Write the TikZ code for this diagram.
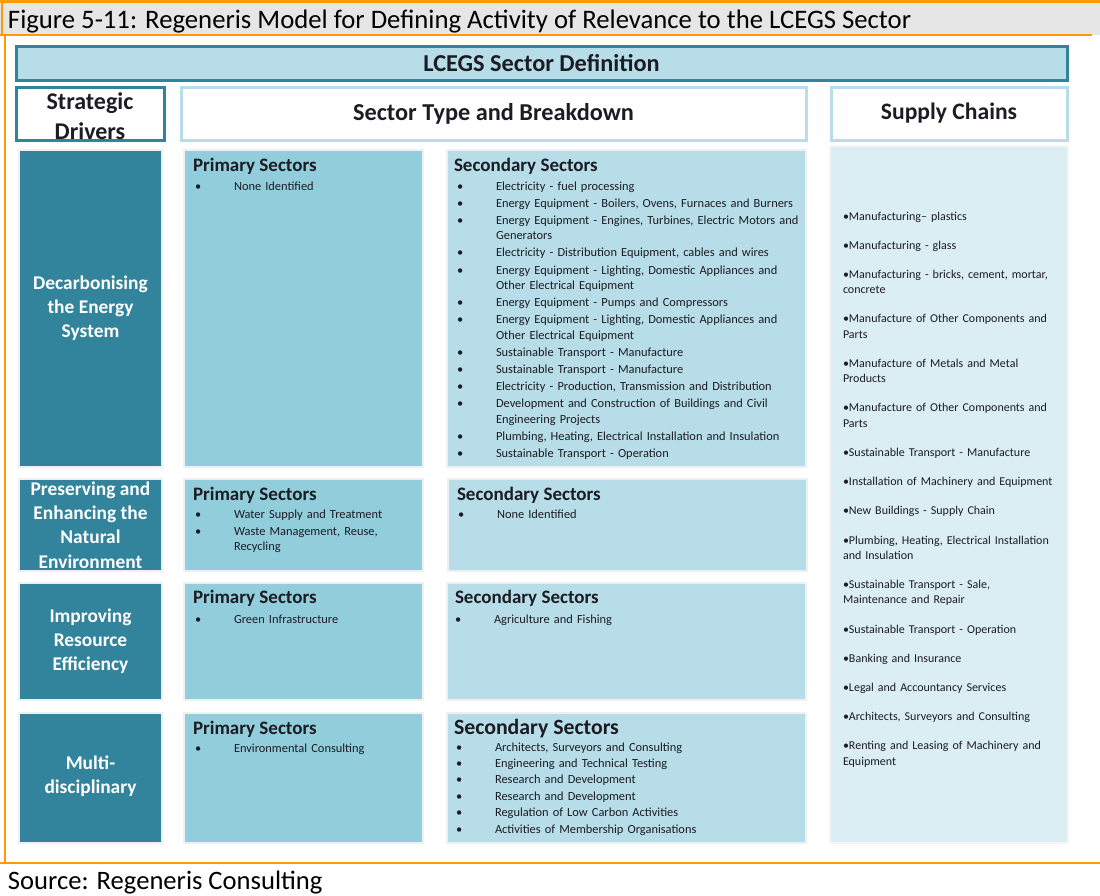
\documentclass[tikz,border=0pt]{standalone}
\usepackage{fontspec}
\setmainfont{Carlito}
\newfontfamily\itemfont[WordSpace=0.6]{Carlito}
\usepackage{xcolor}
\usepackage{tikz}
\usetikzlibrary{positioning}

\definecolor{drvteal}{HTML}{31849B}
\definecolor{primblue}{HTML}{92CDDC}
\definecolor{secblue}{HTML}{B7DDE8}
\definecolor{supblue}{HTML}{DAEEF3}
\definecolor{frameorange}{HTML}{FF9A00}
\definecolor{titlegray}{HTML}{E6E6E6}
\definecolor{txtdark}{HTML}{1C1C24}

\newcommand{\bl}[1]{\hangindent=39pt\hangafter=1\makebox[39pt][l]{\textbullet}#1\par}

\begin{document}
\begin{tikzpicture}[x=1pt,y=-1pt,inner sep=0pt,outer sep=0pt]
  \tikzstyle{head}=[draw=drvteal,line width=3pt,fill=secblue,anchor=north west,
                    text=txtdark,font=\fontsize{24.3}{30}\selectfont\bfseries,align=center]
  \tikzstyle{subhead}=[head,draw=secblue,fill=white]
  \tikzstyle{driver}=[fill=drvteal,draw=black!6,line width=2pt,anchor=north west,minimum width=143]
  \tikzstyle{drvlabel}=[text=white,align=center,font=\fontsize{19.4}{24.2}\selectfont\bfseries]
  \tikzstyle{primbox}=[fill=primblue,draw=black!6,line width=2pt,anchor=north west,minimum width=239]
  \tikzstyle{secbox}=[fill=secblue,draw=black!6,line width=2pt,anchor=north west,minimum width=359]
  \tikzstyle{sechead}=[anchor=base west,text=txtdark,font=\fontsize{19}{22}\selectfont\bfseries]
  \tikzstyle{seclist}=[anchor=base west,text=txtdark,text width=345,align=left,
                       font=\itemfont\fontsize{12.4}{15.3}\selectfont,
                       execute at begin node={\setlength{\parskip}{1.9pt}}]

  \useasboundingbox (0,0) rectangle (1100,895);

  \fill[titlegray] (0,2) rectangle (1100,35);
  \node[anchor=base west,font=\fontsize{26.7}{30}\selectfont,text=black] (title) at (8,28)
    {Figure 5-11: Regeneris Model for Defining Activity of Relevance to the LCEGS Sector};
  \draw[frameorange,line width=2.5pt] (0,1.5) -- (1100,1.5);
  \draw[frameorange,line width=2pt] (1.5,1.5) -- (1.5,35);
  \draw[frameorange,line width=2pt] (0,35) -- (1092,35);
  \draw[frameorange,line width=2.5pt] (5,35) -- (5,863) (0,863) -- (1100,863);
  \node[anchor=base west,font=\fontsize{26.6}{30}\selectfont,text=black] (source) at (8,889)
    {Source: Regeneris Consulting};

  \node[head,minimum width=1051,minimum height=34] (lcegs) at (16,46) {LCEGS Sector Definition};
  \node[head,fill=white,minimum width=148,minimum height=53] (drv) at (16,87) {};
  \node[text=txtdark,align=center,font=\fontsize{24}{30}\selectfont\bfseries] (drvl) at (90,116) {Strategic\\Drivers};
  \node[subhead,minimum width=625,minimum height=53] (stb) at (181,87) {Sector Type and Breakdown};
  \node[subhead,minimum width=236,minimum height=53,font=\fontsize{23.6}{28}\selectfont\bfseries] (sch) at (831,87) {Supply Chains};

  \node[driver,minimum height=317] (D1) at (19,150) {};
  \node[driver,minimum height=92]  (D2) at (19,479) {};
  \node[driver,minimum height=117] (D3) at (19,583) {};
  \node[driver,minimum height=130] (D4) at (19,713) {};
  \node[drvlabel] (D1l) at (D1.center) {Decarbonising\\the  Energy\\System};
  \node[drvlabel] (D2l) at (D2.center) {Preserving and\\Enhancing  the\\Natural\\Environment};
  \node[drvlabel] (D3l) at (D3.center) {Improving\\Resource\\Efficiency};
  \node[drvlabel] (D4l) at ([yshift=2]D4.center) {Multi-\\disciplinary};

  \node[primbox,minimum height=317] (P1) at (184,150) {};
  \node[primbox,minimum height=92]  (P2) at (184,479) {};
  \node[primbox,minimum height=117] (P3) at (184,583) {};
  \node[primbox,minimum height=130] (P4) at (184,713) {};

  \node[secbox,minimum height=317] (S1) at (447,150) {};
  \node[secbox,minimum height=92]  (S2) at (448,479) {};
  \node[secbox,minimum height=117] (S3) at (447,583) {};
  \node[secbox,minimum height=130] (S4) at (447,713) {};

  \node[fill=supblue,draw=black!4,line width=2pt,anchor=north west,
        minimum width=238,minimum height=697] (SC) at (830,146) {};

  \node[sechead] (P1h) at (193,171) {Primary Sectors};
  \node[seclist] (P1l) at (195,190) {\bl{None Identified}};
  \node[sechead] (S1h) at (454,171) {Secondary Sectors};
  \node[seclist] (S1l) at (457,190) {%
    \bl{Electricity - fuel processing}
    \bl{Energy Equipment - Boilers, Ovens, Furnaces and Burners}
    \bl{Energy Equipment - Engines, Turbines, Electric Motors and\newline Generators}
    \bl{Electricity - Distribution Equipment, cables and wires}
    \bl{Energy Equipment - Lighting, Domestic Appliances and\newline Other Electrical Equipment}
    \bl{Energy Equipment - Pumps and Compressors}
    \bl{Energy Equipment - Lighting, Domestic Appliances and\newline Other Electrical Equipment}
    \bl{Sustainable Transport - Manufacture}
    \bl{Sustainable Transport - Manufacture}
    \bl{Electricity - Production, Transmission and Distribution}
    \bl{Development and Construction of Buildings and Civil\newline Engineering Projects}
    \bl{Plumbing, Heating, Electrical Installation and Insulation}
    \bl{Sustainable Transport - Operation}};

  \node[sechead] (P2h) at (193,500) {Primary Sectors};
  \node[seclist] (P2l) at (195,518) {%
    \bl{Water Supply and Treatment}
    \bl{Waste Management, Reuse,\newline Recycling}};
  \node[sechead] (S2h) at (457,500) {Secondary Sectors};
  \node[seclist] (S2l) at (458,518) {\bl{None Identified}};

  \node[sechead] (P3h) at (193,603) {Primary Sectors};
  \node[seclist] (P3l) at (195,623) {\bl{Green Infrastructure}};
  \node[sechead] (S3h) at (455,603) {Secondary Sectors};
  \node[seclist] (S3l) at (455,623) {\bl{Agriculture and Fishing}};

  \node[sechead] (P4h) at (193,734) {Primary Sectors};
  \node[seclist] (P4l) at (195,752) {\bl{Environmental Consulting}};
  \node[sechead,font=\fontsize{21.8}{24}\selectfont\bfseries] (S4h) at (454,734) {Secondary Sectors};
  \node[seclist,execute at begin node={\setlength{\parskip}{1.1pt}}] (S4l) at (456,751) {%
    \bl{Architects, Surveyors and Consulting}
    \bl{Engineering and Technical Testing}
    \bl{Research and Development}
    \bl{Research and Development}
    \bl{Regulation of Low Carbon Activities}
    \bl{Activities of Membership Organisations}};

  \node[seclist,text width=222,font=\itemfont\fontsize{12}{15.3}\selectfont,
        execute at begin node={\setlength{\parskip}{13.9pt}}] (SCl) at (843,220) {%
    \textbullet Manufacturing– plastics\par
    \textbullet Manufacturing - glass\par
    \textbullet Manufacturing - bricks, cement, mortar,\newline concrete\par
    \textbullet Manufacture of Other Components and\newline Parts\par
    \textbullet Manufacture of Metals and Metal\newline Products\par
    \textbullet Manufacture of Other Components and\newline Parts\par
    \textbullet Sustainable Transport - Manufacture\par
    \textbullet Installation of Machinery and Equipment\par
    \textbullet New Buildings - Supply Chain\par
    \textbullet Plumbing, Heating, Electrical Installation\newline and Insulation\par
    \textbullet Sustainable Transport - Sale,\newline Maintenance and Repair\par
    \textbullet Sustainable Transport - Operation\par
    \textbullet Banking and Insurance\par
    \textbullet Legal and Accountancy Services\par
    \textbullet Architects, Surveyors and Consulting\par
    \textbullet Renting and Leasing of Machinery and\newline Equipment};
\end{tikzpicture}
\end{document}
